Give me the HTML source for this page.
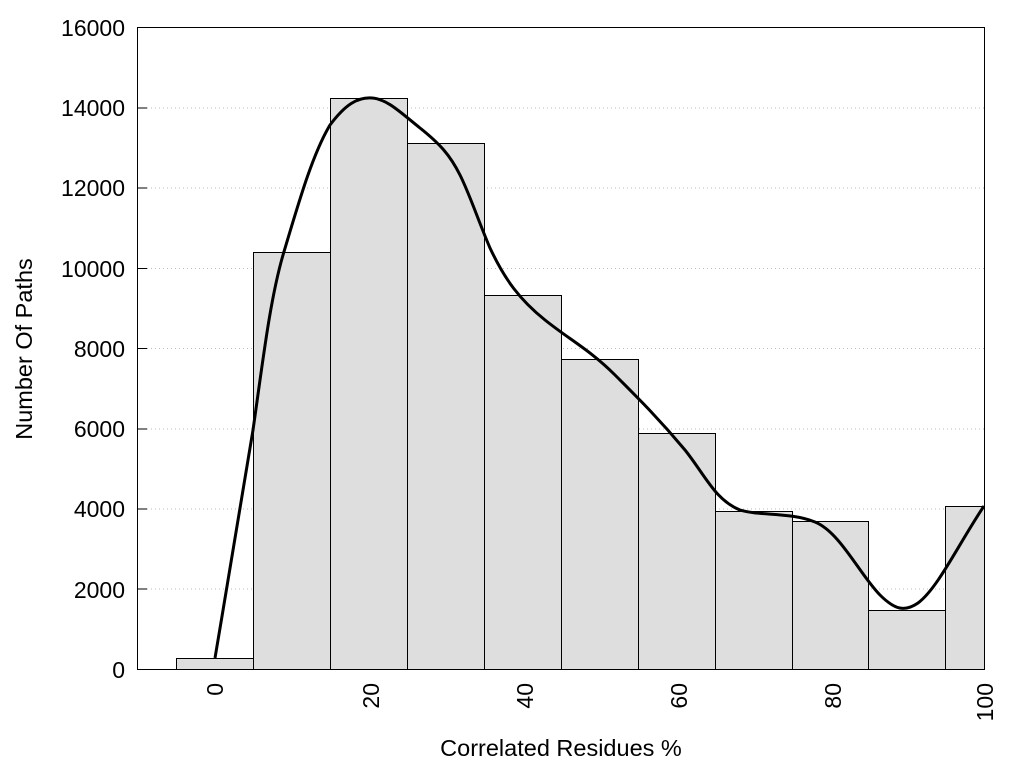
<!DOCTYPE html>
<html><head><style>body{margin:0;background:#fff}svg{display:block}</style></head><body>
<svg width="1024" height="768" xmlns="http://www.w3.org/2000/svg" font-family="Liberation Sans, sans-serif">
<g stroke="#bbb" stroke-dasharray="1,3" stroke-width="1">
<line x1="147" x2="984" y1="589" y2="589"/><line x1="147" x2="984" y1="509" y2="509"/><line x1="147" x2="984" y1="429" y2="429"/><line x1="147" x2="984" y1="348.5" y2="348.5"/><line x1="147" x2="984" y1="268.5" y2="268.5"/><line x1="147" x2="984" y1="188" y2="188"/><line x1="147" x2="984" y1="108" y2="108"/>
</g>
<g fill="#dedede" stroke="#000" stroke-width="1">
<rect x="176.5" y="658.5" width="77" height="11"/>
<rect x="253.5" y="252.5" width="77" height="417"/>
<rect x="330.5" y="98.5" width="77" height="571"/>
<rect x="407.5" y="143.5" width="77" height="526"/>
<rect x="484.5" y="295.5" width="77" height="374"/>
<rect x="561.5" y="359.5" width="77" height="310"/>
<rect x="638.5" y="433.5" width="77" height="236"/>
<rect x="715.5" y="511.5" width="77" height="158"/>
<rect x="792.5" y="521.5" width="76" height="148"/>
<rect x="868.5" y="610.5" width="77" height="59"/>
<rect x="945.5" y="506.5" width="39" height="163"/>
</g>
<path d="M215,658 C228,580 242,500 253,430 C263,360 270,300 283,255 C298,205 312,155 330,125 C345,105 357,97 372,98 C387,99 400,112 420,128 C440,144 450,155 460,175 C470,195 478,220 490,248 C505,280 520,300 545,320 C570,340 590,350 615,375 C640,400 660,420 685,450 C705,475 715,500 740,510 C760,516 790,512 815,522 C840,532 860,575 880,595 C895,610 905,612 918,603 C938,588 958,545 984,506" fill="none" stroke="#000" stroke-width="3"/>
<rect x="137.5" y="27.5" width="847" height="642" fill="none" stroke="#000" stroke-width="1"/>
<g stroke="#000"><line x1="137" x2="147" y1="589" y2="589"/><line x1="137" x2="147" y1="509" y2="509"/><line x1="137" x2="147" y1="429" y2="429"/><line x1="137" x2="147" y1="348.5" y2="348.5"/><line x1="137" x2="147" y1="268.5" y2="268.5"/><line x1="137" x2="147" y1="188" y2="188"/><line x1="137" x2="147" y1="108" y2="108"/></g>
<g font-size="23" text-anchor="end" fill="#000">
<text x="125" y="678">0</text><text x="125" y="598">2000</text><text x="125" y="517">4000</text><text x="125" y="437">6000</text><text x="125" y="357">8000</text><text x="125" y="277">10000</text><text x="125" y="196">12000</text><text x="125" y="116">14000</text><text x="125" y="36">16000</text>
</g>
<g font-size="23" text-anchor="end" fill="#000">
<text transform="translate(223,683) rotate(-90)">0</text>
<text transform="translate(379,683) rotate(-90)">20</text>
<text transform="translate(533,683) rotate(-90)">40</text>
<text transform="translate(687,683) rotate(-90)">60</text>
<text transform="translate(841,683) rotate(-90)">80</text>
<text transform="translate(993,683) rotate(-90)">100</text>
</g>
<text x="561" y="756" font-size="23.5" text-anchor="middle">Correlated Residues %</text>
<text transform="translate(32,349) rotate(-90)" font-size="23.5" text-anchor="middle">Number Of Paths</text>
</svg>
</body></html>
